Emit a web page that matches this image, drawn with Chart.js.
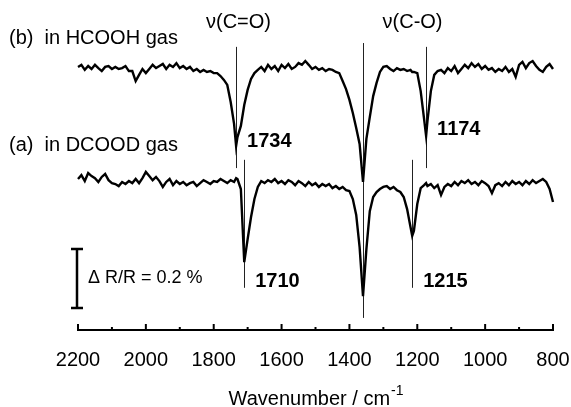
<!DOCTYPE html>
<html>
<head>
<meta charset="utf-8">
<script src="https://cdn.jsdelivr.net/npm/chart.js@4.4.0/dist/chart.umd.min.js"></script>
<style>
  html, body { margin: 0; padding: 0; background: #fff; }
  canvas { display: block; }
</style>
</head>
<body>
<canvas id="spectrumChart" width="571" height="407"></canvas>
<script>
// wavenumber grid (cm-1), with the peak positions added in
const WAVENUMBERS = [
  2200, 2190, 2180, 2170, 2160, 2150, 2140, 2130, 2120, 2110,
  2100, 2090, 2080, 2070, 2060, 2050, 2040, 2030, 2020, 2010,
  2000, 1990, 1980, 1970, 1960, 1950, 1940, 1930, 1920, 1910,
  1900, 1890, 1880, 1870, 1860, 1850, 1840, 1830, 1820, 1810,
  1800, 1790, 1780, 1770, 1760, 1750, 1740, 1734, 1730, 1720,
  1710, 1700, 1690, 1680, 1670, 1660, 1650, 1640, 1630, 1620,
  1610, 1600, 1590, 1580, 1570, 1560, 1550, 1540, 1530, 1520,
  1510, 1500, 1490, 1480, 1470, 1460, 1450, 1440, 1430, 1420,
  1410, 1400, 1390, 1380, 1370, 1360, 1350, 1340, 1330, 1320,
  1310, 1300, 1290, 1280, 1270, 1260, 1250, 1240, 1230, 1220,
  1215, 1210, 1200, 1190, 1180, 1174, 1170, 1160, 1150, 1140,
  1130, 1120, 1110, 1100, 1090, 1080, 1070, 1060, 1050, 1040,
  1030, 1020, 1010, 1000, 990, 980, 970, 960, 950, 940,
  930, 920, 910, 900, 890, 880, 870, 860, 850, 840,
  830, 820, 810, 800
];

// (b) in HCOOH gas, delta R/R in %
const HCOOH_GAS = [
  0.007, 0.014, -0.003, 0.010, 0, 0.014, 0.003, -0.007, 0.007, 0.010,
  0, 0.007, 0, 0.003, 0.010, -0.007, -0.007, -0.041, -0.020, 0,
  -0.014, 0, 0.014, 0.003, 0.010, 0.017, 0, 0.014, 0.007, 0.020,
  0.003, 0.010, 0, 0.007, -0.007, 0, -0.010, -0.003, -0.010, -0.007,
  -0.014, -0.014, -0.024, -0.037, -0.054, -0.112, -0.186, -0.261, -0.231, -0.193,
  -0.122, -0.071, -0.034, -0.014, -0.003, 0.007, -0.007, 0.014, 0, 0.010,
  -0.007, 0.014, 0.003, 0.017, 0, 0.007, 0.020, 0.014, 0.027, 0.014,
  0, 0.007, -0.003, 0.003, -0.007, 0, -0.003, -0.010, -0.014, -0.041,
  -0.068, -0.105, -0.149, -0.200, -0.254, -0.383, -0.237, -0.163, -0.092, -0.047,
  -0.010, 0.007, 0.010, 0, -0.007, 0.003, -0.003, 0, -0.007, -0.003,
  -0.010, -0.010, -0.014, -0.075, -0.169, -0.227, -0.176, -0.075, -0.020, -0.007,
  -0.003, -0.014, 0.003, -0.007, 0.010, -0.014, 0, 0.014, 0.003, 0.020,
  0.007, 0.017, 0, 0.010, -0.003, 0.003, -0.010, 0, -0.007, 0.007,
  -0.010, 0, -0.027, 0.014, 0.024, 0.003, 0.020, 0.027, 0.010, -0.003,
  -0.010, 0.007, 0.017, 0
];

// (a) in DCOOD gas, delta R/R in %
const DCOOD_GAS = [
  0.007, 0.020, 0, 0.027, 0.017, 0.010, -0.003, 0.014, 0.024, 0.003,
  -0.007, -0.010, -0.017, -0.003, -0.010, 0, -0.007, 0.007, -0.007, 0.010,
  0.031, 0.017, 0.003, 0.014, 0, -0.020, -0.003, 0.007, -0.014, 0,
  -0.010, -0.003, -0.014, -0.007, -0.003, -0.017, -0.007, 0.003, -0.003, -0.010,
  0, -0.003, 0.007, 0, -0.007, 0.003, -0.003, 0.010, 0.007, -0.027,
  -0.275, -0.197, -0.122, -0.061, -0.020, 0, -0.007, 0.003, -0.003, 0.007,
  -0.007, 0, -0.010, 0.003, -0.003, -0.014, 0, -0.007, -0.017, -0.003,
  -0.014, -0.007, -0.020, -0.010, -0.017, -0.010, -0.024, -0.017, -0.027, -0.020,
  -0.031, -0.034, -0.061, -0.115, -0.224, -0.390, -0.231, -0.102, -0.054, -0.037,
  -0.027, -0.020, -0.017, -0.027, -0.020, -0.031, -0.037, -0.054, -0.095, -0.156,
  -0.186, -0.169, -0.078, -0.024, -0.014, -0.007, -0.017, -0.010, -0.024, -0.014,
  -0.047, -0.020, -0.010, -0.017, -0.003, -0.014, 0, -0.007, 0.003, -0.010,
  -0.003, -0.014, 0, -0.007, -0.017, -0.041, -0.014, -0.007, -0.017, -0.003,
  -0.014, 0, -0.010, -0.003, -0.014, 0, -0.010, 0.003, -0.007, 0,
  0.007, -0.003, -0.027, -0.071
];

// vertical offsets of the two traces (in %)
const OFFSET_B = 0;
const OFFSET_A = -0.38;

const X_TICK_LABELS = [2200, 2000, 1800, 1600, 1400, 1200, 1000, 800];

// peak marker lines: wavenumber, top and bottom (in %)
const PEAK_WN = [1734, 1360, 1174, 1710, 1215];
const PEAK_TOP = [0.075, 0.088, 0.075, -0.308, -0.308];
const PEAK_BOTTOM = [-0.336, -0.844, -0.336, -0.742, -0.742];

// peak labels
const LABEL_TEXT = ['1734', '1174', '1710', '1215'];
const LABEL_WN = [1734, 1174, 1710, 1215];
const LABEL_VALUE = [-0.246, -0.205, -0.720, -0.722];

const MODE_TEXT = ['\u03BD(C=O)', '\u03BD(C-O)'];
const MODE_WN = [1727, 1214];
const MODE_VALUE = 0.156;

const TRACE_TEXT = ['(b)  in HCOOH gas', '(a)  in DCOOD gas'];
const TRACE_VALUE = [0.103, -0.258];

const SCALE_BAR_BOTTOM = -0.81;
const SCALE_BAR_SIZE = 0.2;

const FONT = '"Liberation Sans", Arial, Helvetica, sans-serif';

function toPoints(values, offset) {
    return WAVENUMBERS.map((w, i) => ({ x: w, y: values[i] + offset }));
}

const decorations = {
    id: 'decorations',
    beforeDatasetsDraw(chart) {
        const ctx = chart.ctx;
        const x = chart.scales.x;
        const y = chart.scales.y;
        ctx.save();
        ctx.strokeStyle = '#222';
        ctx.lineWidth = 1;
        PEAK_WN.forEach((w, i) => {
            const px = Math.round(x.getPixelForValue(w)) + 0.5;
            ctx.beginPath();
            ctx.moveTo(px, y.getPixelForValue(PEAK_TOP[i]));
            ctx.lineTo(px, y.getPixelForValue(PEAK_BOTTOM[i]));
            ctx.stroke();
        });
        ctx.restore();
    },
    afterDraw(chart) {
        const ctx = chart.ctx;
        const x = chart.scales.x;
        const y = chart.scales.y;
        const area = chart.chartArea;
        ctx.save();
        ctx.fillStyle = '#000';
        ctx.strokeStyle = '#000';

        // tick marks pointing up into the plot
        ctx.lineWidth = 2;
        x.ticks.forEach(t => {
            const px = x.getPixelForValue(t.value);
            const len = X_TICK_LABELS.includes(t.value) ? 6 : 3;
            ctx.beginPath();
            ctx.moveTo(px, area.bottom);
            ctx.lineTo(px, area.bottom - len);
            ctx.stroke();
        });

        // peak numbers
        ctx.font = 'bold 20px ' + FONT;
        ctx.textBaseline = 'middle';
        ctx.textAlign = 'left';
        LABEL_TEXT.forEach((txt, i) => {
            ctx.fillText(txt, x.getPixelForValue(LABEL_WN[i]) + 11, y.getPixelForValue(LABEL_VALUE[i]));
        });

        // mode names
        ctx.font = '20px ' + FONT;
        ctx.textAlign = 'center';
        MODE_TEXT.forEach((txt, i) => {
            ctx.fillText(txt, x.getPixelForValue(MODE_WN[i]), y.getPixelForValue(MODE_VALUE));
        });

        // trace names
        ctx.textAlign = 'left';
        TRACE_TEXT.forEach((txt, i) => {
            ctx.fillText(txt, 9, y.getPixelForValue(TRACE_VALUE[i]));
        });

        // scale bar
        const bx = x.getPixelForValue(2200) - 1;
        const bTop = y.getPixelForValue(SCALE_BAR_BOTTOM + SCALE_BAR_SIZE);
        const bBot = y.getPixelForValue(SCALE_BAR_BOTTOM);
        ctx.lineWidth = 2.5;
        ctx.beginPath();
        ctx.moveTo(bx, bTop);
        ctx.lineTo(bx, bBot);
        ctx.moveTo(bx - 6, bTop);
        ctx.lineTo(bx + 6, bTop);
        ctx.moveTo(bx - 6, bBot);
        ctx.lineTo(bx + 6, bBot);
        ctx.stroke();
        ctx.font = '18px ' + FONT;
        ctx.fillText('\u0394 R/R = 0.2 %', bx + 11, (bTop + bBot) / 2);

        // axis title with superscript
        const main = 'Wavenumber / cm';
        const sup = '-1';
        ctx.font = '20px ' + FONT;
        const wMain = ctx.measureText(main).width;
        ctx.font = '14px ' + FONT;
        const wSup = ctx.measureText(sup).width;
        const startX = (area.left + area.right) / 2 - (wMain + wSup) / 2;
        ctx.textBaseline = 'alphabetic';
        ctx.font = '20px ' + FONT;
        ctx.fillText(main, startX, 405);
        ctx.font = '14px ' + FONT;
        ctx.fillText(sup, startX + wMain + 1, 395);
        ctx.restore();
    }
};

function spectrumChart() {
    const ctx = document.getElementById('spectrumChart').getContext('2d');
    new Chart(ctx, {
        type: 'line',
        data: {
            datasets: [
                {
                    label: 'HCOOH gas',
                    data: toPoints(HCOOH_GAS, OFFSET_B),
                    borderColor: '#000',
                    borderWidth: 2.4,
                    pointRadius: 0,
                    tension: 0,
                    clip: false
                },
                {
                    label: 'DCOOD gas',
                    data: toPoints(DCOOD_GAS, OFFSET_A),
                    borderColor: '#000',
                    borderWidth: 2.4,
                    pointRadius: 0,
                    tension: 0,
                    clip: false
                }
            ]
        },
        options: {
            responsive: false,
            animation: false,
            layout: {
                padding: { left: 78, right: 18, top: 10, bottom: 17 }
            },
            plugins: {
                legend: { display: false },
                title: { display: false },
                tooltip: { enabled: false }
            },
            scales: {
                x: {
                    type: 'linear',
                    reverse: true,
                    min: 800,
                    max: 2200,
                    afterFit: function(scale) {
                        scale.paddingLeft = 0;
                        scale.paddingRight = 0;
                    },
                    grid: {
                        drawOnChartArea: false,
                        drawTicks: false
                    },
                    border: {
                        display: true,
                        color: '#000',
                        width: 2
                    },
                    ticks: {
                        stepSize: 100,
                        autoSkip: false,
                        maxRotation: 0,
                        padding: 18,
                        color: '#000',
                        font: { family: FONT, size: 20 },
                        callback: function(value) {
                            return X_TICK_LABELS.includes(value) ? String(value) : '';
                        }
                    }
                },
                y: {
                    display: false,
                    min: -0.885,
                    max: 0.2
                }
            }
        },
        plugins: [decorations]
    });
}

spectrumChart();
</script>
</body>
</html>
